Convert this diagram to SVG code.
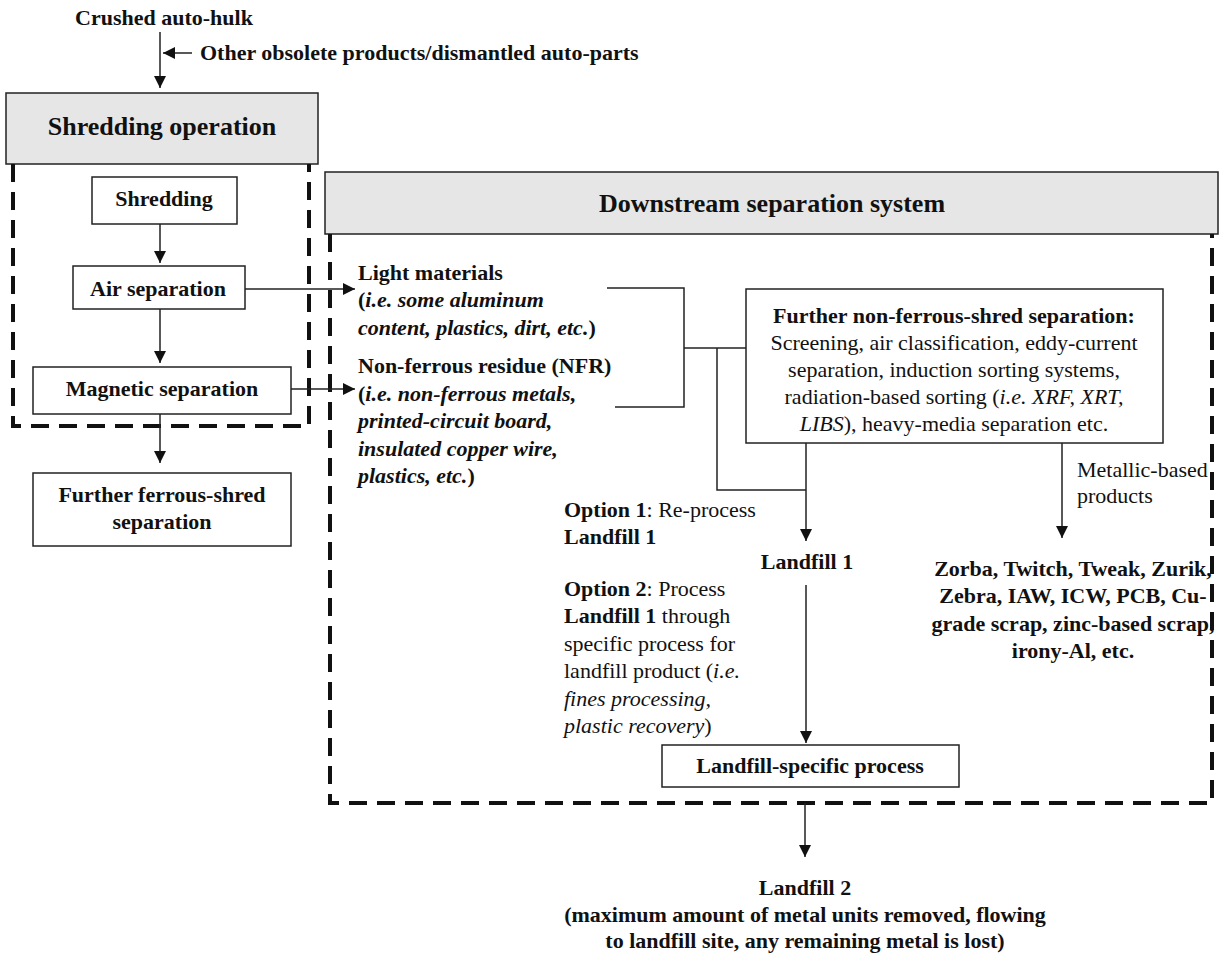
<svg xmlns="http://www.w3.org/2000/svg" width="1225" height="955" viewBox="0 0 1225 955">
<style>
text{font-family:"Liberation Serif","Times New Roman",serif;font-size:22px;fill:#111}
.b{font-weight:bold}
.i{font-style:italic}
.m{text-anchor:middle}
.h{font-size:26px;font-weight:bold;text-anchor:middle}
.box{fill:#fff;stroke:#222;stroke-width:1.5}
.hdr{fill:#e6e6e6;stroke:#222;stroke-width:1.5}
.dash{fill:none;stroke:#111;stroke-width:4;stroke-dasharray:18 10}
.ln{fill:none;stroke:#222;stroke-width:1.5}
.ar{marker-end:url(#ah)}
</style>
<defs>
<marker id="ah" markerUnits="userSpaceOnUse" markerWidth="12" markerHeight="12" refX="12" refY="6" orient="auto">
<path d="M0,0 L12,6 L0,12 z" fill="#111"/>
</marker>
</defs>

<g id="input-crushed">
<text class="b" x="75" y="25">Crushed auto-hulk</text>
</g>
<g id="input-other">
<text class="b" x="200" y="60">Other obsolete products/dismantled auto-parts</text>
</g>

<g id="shredding-operation">
<rect class="hdr" x="6" y="93" width="312" height="71"/>
<text class="h" x="162" y="135">Shredding operation</text>
<path class="dash" d="M13,164 V426 H309 V164"/>
</g>

<g id="shredding">
<rect class="box" x="92" y="177" width="145" height="47"/>
<text class="b m" x="164" y="206">Shredding</text>
</g>
<g id="air-separation">
<rect class="box" x="73" y="266" width="172" height="43"/>
<text class="b m" x="158" y="296">Air separation</text>
</g>
<g id="magnetic-separation">
<rect class="box" x="33" y="367" width="258" height="47"/>
<text class="b m" x="162" y="396">Magnetic separation</text>
</g>
<g id="ferrous-separation">
<rect class="box" x="33" y="473" width="258" height="73"/>
<text class="b m" x="162" y="502">Further ferrous-shred</text>
<text class="b m" x="162" y="529">separation</text>
</g>

<g id="downstream-system">
<rect class="hdr" x="325" y="172" width="893" height="62"/>
<text class="h" x="772" y="212">Downstream separation system</text>
<path class="dash" d="M330,234 V803 H1212 V234"/>
</g>

<g id="light-materials">
<text class="b" x="358" y="280">Light materials</text>
<text class="b" x="358" y="307">(<tspan class="i">i.e. some aluminum</tspan></text>
<text class="b" x="358" y="335"><tspan class="i">content, plastics, dirt, etc.</tspan>)</text>
</g>
<g id="nfr">
<text class="b" x="358" y="373">Non-ferrous residue (NFR)</text>
<text class="b" x="358" y="401">(<tspan class="i">i.e. non-ferrous metals,</tspan></text>
<text class="b i" x="358" y="428">printed-circuit board,</text>
<text class="b i" x="358" y="456">insulated copper wire,</text>
<text class="b" x="358" y="483"><tspan class="i">plastics, etc.</tspan>)</text>
</g>

<g id="nonferrous-separation">
<rect class="box" x="746" y="289" width="417" height="154"/>
<text class="b m" x="954" y="323">Further non-ferrous-shred separation:</text>
<text class="m" x="954" y="350">Screening, air classification, eddy-current</text>
<text class="m" x="954" y="377">separation, induction sorting systems,</text>
<text class="m" x="954" y="404">radiation-based sorting (<tspan class="i">i.e. XRF, XRT,</tspan></text>
<text class="m" x="954" y="431"><tspan class="i">LIBS</tspan>), heavy-media separation etc.</text>
</g>

<g id="options">
<text x="564" y="517"><tspan class="b">Option 1</tspan>: Re-process</text>
<text class="b" x="564" y="544">Landfill 1</text>
<text x="564" y="596"><tspan class="b">Option 2</tspan>: Process</text>
<text x="564" y="623"><tspan class="b">Landfill 1</tspan> through</text>
<text x="564" y="651">specific process for</text>
<text x="564" y="678">landfill product (<tspan class="i">i.e.</tspan></text>
<text class="i" x="564" y="706">fines processing,</text>
<text x="564" y="733"><tspan class="i">plastic recovery</tspan>)</text>
</g>

<g id="landfill-1">
<text class="b m" x="807" y="569">Landfill 1</text>
</g>

<g id="landfill-specific-process">
<rect class="box" x="662" y="745" width="297" height="42"/>
<text class="b m" x="810" y="773">Landfill-specific process</text>
</g>

<g id="metallic-label">
<text x="1077" y="477">Metallic-based</text>
<text x="1077" y="503">products</text>
</g>

<g id="metallic-products">
<text class="b m" x="1073" y="576">Zorba, Twitch, Tweak, Zurik,</text>
<text class="b m" x="1073" y="603">Zebra, IAW, ICW, PCB, Cu-</text>
<text class="b m" x="1073" y="631">grade scrap, zinc-based scrap,</text>
<text class="b m" x="1073" y="658">irony-Al, etc.</text>
</g>

<g id="landfill-2">
<text class="b m" x="805" y="895">Landfill 2</text>
<text class="b m" x="805" y="922">(maximum amount of metal units removed, flowing</text>
<text class="b m" x="805" y="948">to landfill site, any remaining metal is lost)</text>
</g>

<g id="connectors">
<line class="ln ar" x1="160" y1="32" x2="160" y2="88"/>
<line class="ln ar" x1="192" y1="53" x2="163" y2="53"/>
<line class="ln ar" x1="160" y1="224" x2="160" y2="263"/>
<line class="ln ar" x1="160" y1="309" x2="160" y2="363"/>
<line class="ln ar" x1="160" y1="414" x2="160" y2="463"/>
<line class="ln ar" x1="245" y1="289" x2="355" y2="289"/>
<line class="ln ar" x1="291" y1="389" x2="355" y2="389"/>
<path class="ln" d="M607,288 H684 V407 H615"/>
<path class="ln" d="M684,348 H746"/>
<path class="ln" d="M717,348 V490 H806"/>
<line class="ln ar" x1="806" y1="443" x2="806" y2="541"/>
<line class="ln ar" x1="806" y1="585" x2="806" y2="743"/>
<line class="ln ar" x1="1062" y1="443" x2="1062" y2="538"/>
<line class="ln ar" x1="805" y1="803" x2="805" y2="857"/>
</g>
</svg>
